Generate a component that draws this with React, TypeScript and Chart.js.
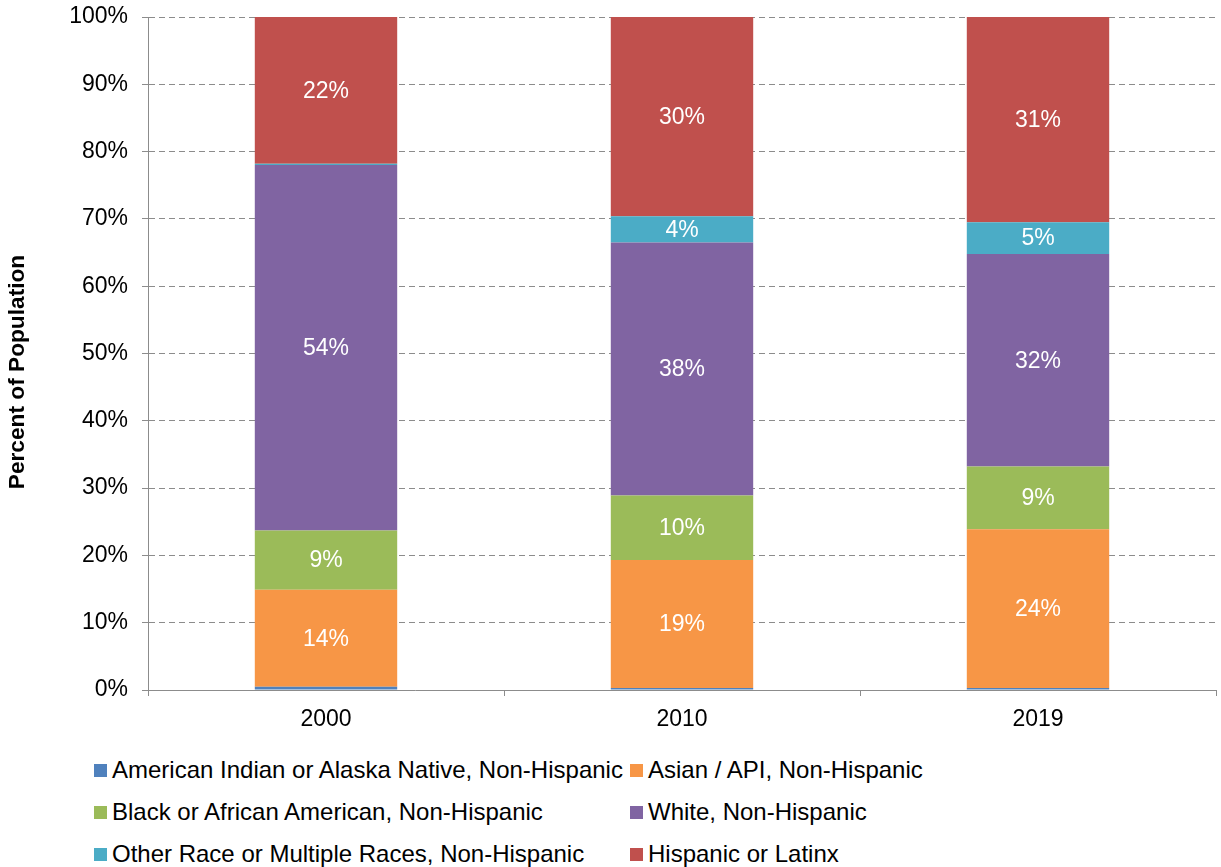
import React, { useEffect, useRef } from "react";
import { Chart, registerables } from "chart.js";

Chart.register(...registerables);

const categories = ["2000", "2010", "2019"];
const americanIndian = [0.5, 0.3, 0.3];
const asian = [14.4, 19.0, 23.6];
const black = [8.8, 9.6, 9.3];
const white = [54.3, 37.6, 31.6];
const otherRace = [0.2, 3.9, 4.7];
const hispanic = [21.8, 29.6, 30.5];

const seriesNames = [
  "American Indian or Alaska Native, Non-Hispanic",
  "Asian / API, Non-Hispanic",
  "Black or African American, Non-Hispanic",
  "White, Non-Hispanic",
  "Other Race or Multiple Races, Non-Hispanic",
  "Hispanic or Latinx",
];
const seriesColors = ["#4F81BD", "#F79646", "#9BBB59", "#8064A2", "#4BACC6", "#C0504D"];
const seriesData = [americanIndian, asian, black, white, otherRace, hispanic];
const yTitle = "Percent of Population";

const FONT = '"Liberation Sans", Arial, sans-serif';

const labelPlugin = {
  id: "barLabels",
  afterDatasetsDraw(chart: any) {
    const ctx = chart.ctx;
    ctx.save();
    ctx.font = `23px ${FONT}`;
    ctx.fillStyle = "#ffffff";
    ctx.textAlign = "center";
    ctx.textBaseline = "middle";
    chart.data.datasets.forEach((ds: any, di: number) => {
      const meta = chart.getDatasetMeta(di);
      meta.data.forEach((bar: any, i: number) => {
        const v = ds.data[i];
        if (v < 3) return;
        const y = (bar.y + bar.base) / 2;
        ctx.fillText(Math.round(v) + "%", bar.x, y + 1);
      });
    });
    // y axis title
    ctx.save();
    ctx.translate(18, 372);
    ctx.rotate(-Math.PI / 2);
    ctx.font = `bold 22.7px ${FONT}`;
    ctx.fillStyle = "#000";
    ctx.textAlign = "center";
    ctx.textBaseline = "middle";
    ctx.fillText(yTitle, 0, 0);
    ctx.restore();
    ctx.restore();
  },
};

export default function App() {
  const ref = useRef<HTMLCanvasElement>(null);

  useEffect(() => {
    if (!ref.current) return;
    const chart = new Chart(ref.current, {
      type: "bar",
      data: {
        labels: categories,
        datasets: seriesData.map((d, i) => ({
          label: seriesNames[i],
          data: d,
          backgroundColor: seriesColors[i],
          borderWidth: 0,
          categoryPercentage: 1,
          barPercentage: 0.4,
        })),
      },
      options: {
        responsive: false,
        animation: false,
        layout: { padding: { top: 17, right: 5, left: 0, bottom: 0 } },
        plugins: {
          legend: { display: false },
          tooltip: { enabled: false },
        },
        scales: {
          x: {
            stacked: true,
            offset: true,
            border: { display: true, color: "#8c8c8c", width: 1 },
            grid: {
              offset: true,
              drawOnChartArea: false,
              drawTicks: true,
              tickLength: 6,
              tickColor: "#8c8c8c",
            },
            ticks: {
              color: "#000",
              font: { family: FONT, size: 23 },
              padding: 10,
            },
            afterFit(scale: any) {
              scale.height = 50;
            },
          },
          y: {
            stacked: true,
            min: 0,
            max: 100,
            border: { display: true, color: "#8c8c8c", width: 1, dash: [6, 4] },
            grid: {
              color: "#8c8c8c",
              lineWidth: 1,
              tickLength: 6,
              tickColor: "#8c8c8c",
              tickBorderDash: [],
            },
            ticks: {
              stepSize: 10,
              color: "#000",
              font: { family: FONT, size: 23 },
              padding: 14,
              callback: (v: any) => v + "%",
            },
            afterFit(scale: any) {
              scale.width = 148;
              scale.paddingTop = 0;
              scale.paddingBottom = 0;
            },
          },
        },
      } as any,
      plugins: [labelPlugin],
    });
    return () => chart.destroy();
  }, []);

  const legendRows = [
    [0, 1],
    [2, 3],
    [4, 5],
  ];
  const rowTops = [770, 812, 854];
  const colLeft = [94, 630];

  return (
    <div
      style={{
        position: "absolute",
        left: 0,
        top: 0,
        width: 1221,
        height: 867,
        background: "#fff",
        fontFamily: FONT,
      }}
    >
      <canvas ref={ref} width={1221} height={740} style={{ position: "absolute", left: 0, top: 0 }} />
      {legendRows.map((row, r) =>
        row.map((si, c) => (
          <div
            key={si}
            style={{
              position: "absolute",
              left: colLeft[c],
              top: rowTops[r] - 15,
              height: 30,
              display: "flex",
              alignItems: "center",
              whiteSpace: "nowrap",
              fontSize: 24,
              color: "#000",
            }}
          >
            <span
              style={{
                display: "inline-block",
                width: 13,
                height: 13,
                background: seriesColors[si],
                marginRight: 5,
              }}
            />
            <span>{seriesNames[si]}</span>
          </div>
        ))
      )}
    </div>
  );
}
